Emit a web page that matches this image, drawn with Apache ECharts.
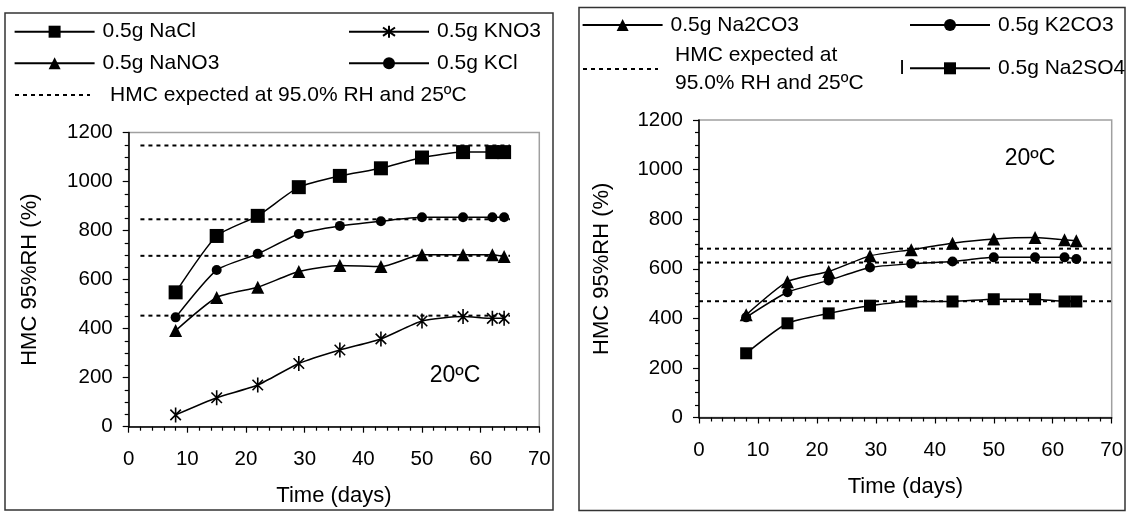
<!DOCTYPE html>
<html>
<head>
<meta charset="utf-8">
<script src="https://cdn.jsdelivr.net/npm/echarts@6/dist/echarts.min.js"></script>
<style>
html,body{margin:0;padding:0;background:#fff;}
#chart{width:1128px;height:512px;}
</style>
</head>
<body>
<div id="chart"></div>
<script>
// ---- data ----
const days = [8, 15, 22, 29, 36, 43, 50, 57, 62, 64];
const nacl = [548, 778, 860, 977, 1023, 1054, 1098, 1120, 1120, 1120];
const kcl = [446, 639, 705, 786, 819, 838, 854, 854, 854, 854];
const nano3 = [392, 527, 569, 633, 658, 653, 701, 701, 701, 694];
const kno3 = [48, 118, 170, 258, 313, 358, 431, 449, 442, 442];
const na2co3 = [414, 548, 589, 652, 677, 703, 720, 726, 717, 713];
const k2co3 = [404, 505, 553, 605, 620, 629, 646, 646, 646, 639];
const na2so4 = [259, 380, 420, 451, 468, 468, 477, 477, 468, 468];
const hmcLeft = [1147, 846, 697, 453];
const hmcRight = [681, 625, 469];
const hmcSpanLeft = [2, 65];
const hmcSpanRight = [0, 72];
const xTicks = [0, 10, 20, 30, 40, 50, 60, 70];
const yTicks = [0, 200, 400, 600, 800, 1000, 1200];
const HMC = 'HMC expected at 95.0% RH and 25ºC';

const FONT = "'Liberation Sans', Arial, sans-serif";
const ASTER = 'path://M10,0L10,20M3,3L17,17M3,17L17,3';

function pairs(xs, ys) { return xs.map((x, i) => [x, ys[i]]); }

function dataSeries(name, idx, ys, symbol, size, extra) {
  return Object.assign({
    name: name, type: 'line', xAxisIndex: idx, yAxisIndex: idx,
    data: pairs(days, ys), smooth: 0.2,
    symbol: symbol, symbolSize: size, symbolKeepAspect: true,
    lineStyle: { color: '#000', width: 1.5 },
    itemStyle: { color: '#000', borderColor: '#000', borderWidth: 0 },
    z: 3, animation: false
  }, extra || {});
}
function hmcSeries(idx, val, span, clip) {
  return {
    name: HMC, type: 'line', xAxisIndex: idx, yAxisIndex: idx,
    data: span.map(x => [x, val]), symbol: 'none', clip: clip,
    lineStyle: { color: '#000', width: 2, type: [4, 4] },
    itemStyle: { color: '#000' }, z: 2, animation: false
  };
}

function xAxis(idx) {
  return {
    gridIndex: idx, type: 'value', min: xTicks[0], max: xTicks[xTicks.length - 1], interval: 10,
    name: 'Time (days)', nameLocation: 'middle', nameGap: 58,
    nameTextStyle: { color: '#000', fontSize: 22, fontFamily: FONT },
    axisLine: { show: true, lineStyle: { color: '#000', width: 1.5 } },
    axisTick: { show: true, length: 6, inside: false, lineStyle: { color: '#000', width: 1.2 } },
    minorTick: { show: true, splitNumber: 5, length: 4, lineStyle: { color: '#000', width: 1.2 } },
    axisLabel: { color: '#000', fontSize: 20.5, fontFamily: FONT, margin: 22, formatter: v => String(v) },
    splitLine: { show: false }
  };
}
function yAxis(idx, gap) {
  return {
    gridIndex: idx, type: 'value', min: yTicks[0], max: yTicks[yTicks.length - 1], interval: 200,
    name: 'HMC 95%RH (%)', nameLocation: 'middle', nameGap: gap, nameRotate: 90,
    nameTextStyle: { color: '#000', fontSize: 22, fontFamily: FONT },
    axisLine: { show: true, lineStyle: { color: '#000', width: 1.5 } },
    axisTick: { show: true, length: 6, inside: false, lineStyle: { color: '#000', width: 1.2 } },
    minorTick: { show: true, splitNumber: 4, length: 4, lineStyle: { color: '#000', width: 1.2 } },
    axisLabel: { color: '#000', fontSize: 20.5, fontFamily: FONT, margin: 16, formatter: v => String(v) },
    splitLine: { show: false }
  };
}

function leg(name, left, cy, opts) {
  opts = opts || {};
  const lh = opts.lineHeight || 21;
  const lines = opts.lines || 1;
  return {
    data: [opts.hideSymbol ? { name: name, itemStyle: { opacity: 0 } } : name],
    left: left, top: cy - (lh * lines) / 2,
    orient: 'horizontal', padding: 0,
    itemWidth: opts.w || 80, itemHeight: 15,
    selectedMode: false,
    formatter: opts.formatter,
    textStyle: { color: '#000', fontSize: 21, fontFamily: FONT, lineHeight: lh,
      padding: [0, 0, 0, opts.pad != null ? opts.pad : 3] }
  };
}

const series = [
  hmcSeries(0, hmcLeft[0], hmcSpanLeft, true),
  hmcSeries(0, hmcLeft[1], hmcSpanLeft, true),
  hmcSeries(0, hmcLeft[2], hmcSpanLeft, true),
  hmcSeries(0, hmcLeft[3], hmcSpanLeft, true),
  dataSeries('0.5g NaCl', 0, nacl, 'rect', 14),
  dataSeries('0.5g KNO3', 0, kno3, ASTER, 15, { itemStyle: { color: 'none', borderColor: '#000', borderWidth: 1.6 } }),
  dataSeries('0.5g NaNO3', 0, nano3, 'triangle', 13),
  dataSeries('0.5g KCl', 0, kcl, 'circle', 10),
  hmcSeries(1, hmcRight[0], hmcSpanRight, false),
  hmcSeries(1, hmcRight[1], hmcSpanRight, false),
  hmcSeries(1, hmcRight[2], hmcSpanRight, false),
  dataSeries('0.5g Na2CO3', 1, na2co3, 'triangle', 13),
  dataSeries('0.5g K2CO3', 1, k2co3, 'circle', 10),
  dataSeries('0.5g Na2SO4', 1, na2so4, 'rect', 12)
];

const chart = echarts.init(document.getElementById('chart'), null, { renderer: 'canvas' });
chart.setOption({
  backgroundColor: '#fff',
  animation: false,
  textStyle: { fontFamily: FONT },
  grid: [
    { left: 128.7, top: 132.5, width: 410.6, height: 294.2, show: true, borderColor: '#a0a0a0', borderWidth: 1.5, backgroundColor: 'transparent' },
    { left: 699, top: 120, width: 412.7, height: 297.5, show: true, borderColor: '#a0a0a0', borderWidth: 1.5, backgroundColor: 'transparent' }
  ],
  xAxis: [xAxis(0), xAxis(1)],
  yAxis: [yAxis(0, 88), yAxis(1, 86)],
  legend: [
    leg('0.5g NaCl', 13.6, 31.7),
    leg('0.5g KNO3', 348, 31.7),
    leg('0.5g NaNO3', 13.6, 63.3),
    leg('0.5g KCl', 348, 63.3),
    leg(HMC, 14, 95, { w: 75, pad: 15, hideSymbol: true }),
    leg('0.5g Na2CO3', 581.6, 25),
    leg('0.5g K2CO3', 909, 25),
    leg(HMC, 582, 69, { w: 75, pad: 12, hideSymbol: true, lines: 2, lineHeight: 28,
      formatter: function () { return 'HMC expected at\n95.0% RH and 25ºC'; } }),
    leg('0.5g Na2SO4', 909, 68.3)
  ],
  graphic: [
    { type: 'rect', shape: { x: 5, y: 13, width: 548, height: 497 }, style: { fill: 'none', stroke: '#333', lineWidth: 1.5 }, z: -1 },
    { type: 'rect', shape: { x: 579, y: 7.5, width: 546, height: 503 }, style: { fill: 'none', stroke: '#333', lineWidth: 1.5 }, z: -1 },
    { type: 'text', x: 455, y: 376, style: { text: '20ºC', fill: '#000', font: '23px ' + FONT, align: 'center', verticalAlign: 'middle' } },
    { type: 'text', x: 1030, y: 159, style: { text: '20ºC', fill: '#000', font: '23px ' + FONT, align: 'center', verticalAlign: 'middle' } },
    { type: 'text', x: 902, y: 68.3, style: { text: 'I', fill: '#000', font: '20px ' + FONT, align: 'center', verticalAlign: 'middle' } }
  ],
  series: series
});
</script>
</body>
</html>
